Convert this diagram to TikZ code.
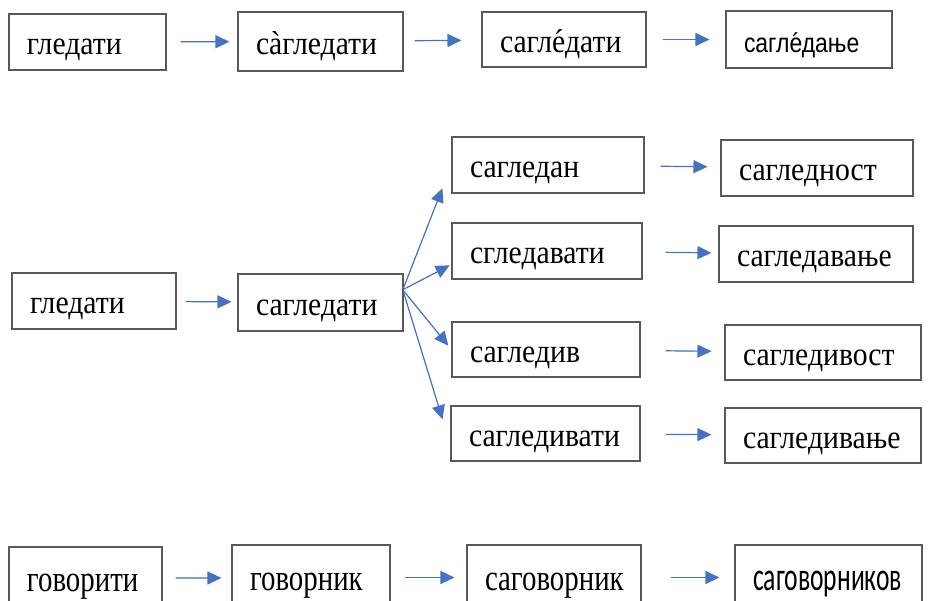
\documentclass[tikz,border=0pt]{standalone}
\usepackage{fontspec}
\setmainfont{Liberation Serif}
\newfontfamily\wordfont{Liberation Serif}[FakeStretch=0.9]
\newfontfamily\narrowfont{Liberation Serif}[FakeStretch=0.78]
\newfontfamily\sansfont{Liberation Sans}[FakeStretch=0.85]
\newfontfamily\sansnarrow{Carlito}[FakeStretch=0.64]
\usetikzlibrary{arrows.meta}
\definecolor{arrowblue}{HTML}{4472C4}

\begin{document}
\begin{tikzpicture}[
    x=1pt, y=-1pt,
    word/.style={draw=black!65, line width=1.1pt, minimum height=56pt, inner xsep=18pt, inner ysep=0pt, align=left, text height=26pt, text depth=0pt, font=\wordfont\fontsize{33}{36}\selectfont},
    lowword/.style={word, minimum height=65pt, font=\narrowfont\fontsize{37}{40}\selectfont},
    line/.style={-{Triangle[length=14pt,width=13pt]}, draw=arrowblue, fill=arrowblue, line width=1.2pt}
  ]
    \useasboundingbox (0,0) rectangle (932,601);

    % first row
    \node[word, text width=121pt] (gl1) at (87.5,42) {гледати};
    \node[word, text width=129pt, minimum height=59pt] (sa1) at (320.5,41.5) {с\accent"60 агледати};
    \node[word, text width=128pt, minimum height=55pt] (sa2) at (564,39.5) {сагл\accent"B4 едати};
    \node[word, text width=130pt, minimum height=57pt, font=\sansfont\fontsize{27}{30}\selectfont] (sa3) at (809,39.5) {сагл\accent"B4 едање};

    % second row
    \node[word, text width=128pt] (gl2) at (94,301) {гледати};
    \node[word, text width=129pt, minimum height=57pt] (sag) at (320.5,302.5) {сагледати};
    \node[word, text width=156pt] (dan) at (548,165) {сагледан};
    \node[word, text width=154pt] (dav) at (547,251) {сгледавати};
    \node[word, text width=152pt, minimum height=55pt] (div) at (546,349.5) {сагледив};
    \node[word, text width=153pt, minimum height=55pt] (divt) at (545.5,433.5) {сагледивати};
    \node[word, text width=156pt] (nost) at (817,168) {сагледност};
    \node[word, text width=158pt] (davnj) at (816,254) {сагледавање};
    \node[word, text width=160pt, minimum height=55pt] (divost) at (823,352.5) {сагледивост};
    \node[word, text width=160pt, minimum height=55pt] (divnj) at (823,435.5) {сагледивање};

    % third row
    \node[lowword, text width=117pt, minimum height=63pt] (gov) at (85.5,578.5) {говорити};
    \node[lowword, text width=122pt] (govn) at (311,577.5) {говорник};
    \node[lowword, text width=138pt] (sgov) at (554,577.5) {саговорник};
    \node[lowword, text width=151pt, font=\sansnarrow\fontsize{40}{44}\selectfont] (sgovn) at (828.5,577.5) {саговорников};

    \draw[line, shorten <=14pt, shorten >=8pt] (gl1) -- (sa1);
    \draw[line, shorten <=11pt, shorten >=20pt] (sa1) -- (sa2);
    \draw[line, shorten <=16pt, shorten >=16pt] (sa2) -- (sa3);

    \draw[line, shorten <=9pt, shorten >=6pt] (gl2) -- (sag);
    \draw[line, shorten >=25pt] (sag.10) -- (dan.west);
    \draw[line, shorten >=2pt] (sag.9) -- (dav.188);
    \draw[line, shorten >=5pt] (sag.8) -- (div.west);
    \draw[line, shorten >=27pt] (sag.7) -- (divt.187);
    \draw[line, shorten <=16pt, shorten >=13pt] (dan) -- (nost);
    \draw[line, shorten <=23pt, shorten >=7pt] (dav) -- (davnj);
    \draw[line, shorten <=25pt, shorten >=13pt] (div) -- (divost);
    \draw[line, shorten <=25pt, shorten >=13pt] (divt) -- (divnj);

    \draw[line, shorten <=13pt, shorten >=10pt] (gov) -- (govn);
    \draw[line, shorten <=14pt, shorten >=12pt] (govn) -- (sgov);
    \draw[line, shorten <=29pt, shorten >=15pt] (sgov) -- (sgovn);
  \end{tikzpicture}
\end{document}
